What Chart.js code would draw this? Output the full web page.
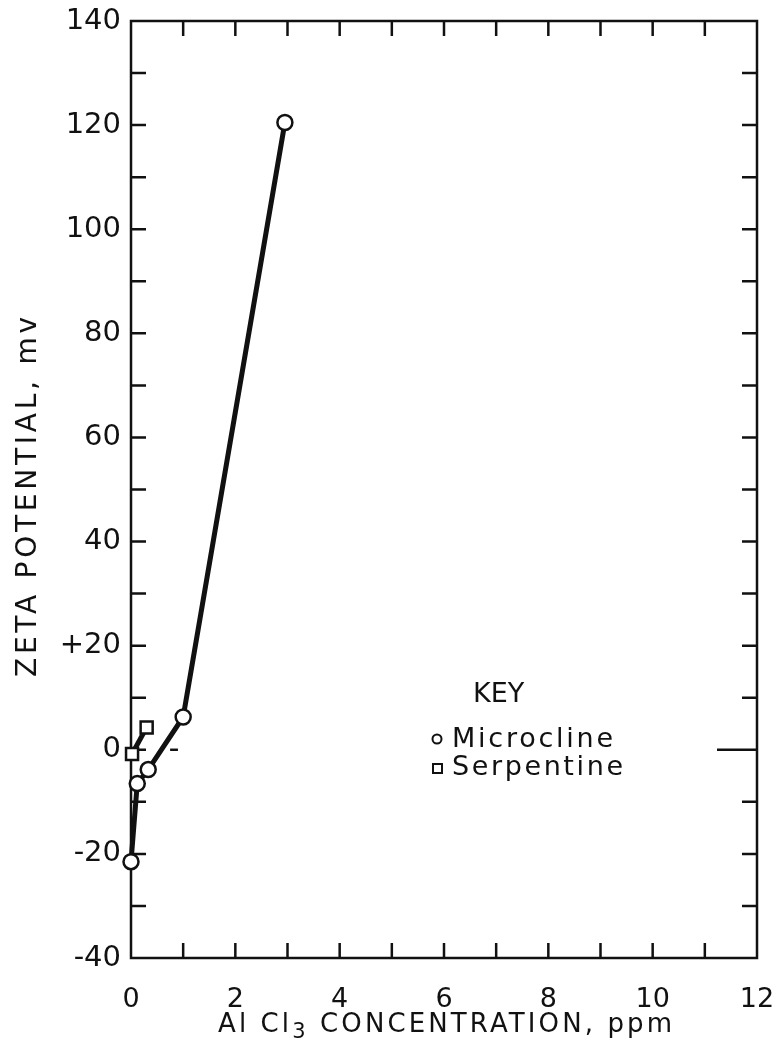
<!DOCTYPE html>
<html>
<head>
<meta charset="utf-8">
<script src="https://cdn.jsdelivr.net/npm/chart.js@4.4.1/dist/chart.umd.min.js"></script>
<style>
  html, body { margin: 0; padding: 0; background: #fff; }
  #wrap { width: 777px; height: 1048px; position: relative; }
</style>
</head>
<body>
<div id="wrap"><canvas id="zeta"></canvas></div>
<script>
// data
const microclineConc = [0, 0.12, 0.33, 1.0, 2.95];
const microclineZeta = [-21.5, -6.5, -3.8, 6.3, 120.5];
const serpentineConc = [0.02, 0.3];
const serpentineZeta = [-0.8, 4.3];

const xLabels = { 0: "0", 2: "2", 4: "4", 6: "6", 8: "8", 10: "10", 12: "12" };
const yLabels = { "-40": "-40", "-20": "-20", 0: "0", 20: "+20", 40: "40", 60: "60", 80: "80", 100: "100", 120: "120", 140: "140" };

const ink = "#111";
const face = "'DejaVu Sans'";

function pts(xs, ys) {
    return xs.map((x, i) => ({ x: x, y: ys[i] }));
}

// draws text pieces spread out to a given width, starting at x (left aligned)
function spreadText(ctx, parts, x, y, width) {
    let natural = 0, count = 0;
    ctx.letterSpacing = "0px";
    parts.forEach(p => {
        ctx.font = p.size + "px " + face;
        natural += ctx.measureText(p.t).width;
        count += p.t.length;
    });
    const gap = Math.max(0, (width - natural) / (count - 1));
    ctx.letterSpacing = gap + "px";
    let cx = x;
    parts.forEach(p => {
        ctx.font = p.size + "px " + face;
        ctx.fillText(p.t, cx, y + (p.dy || 0));
        cx += ctx.measureText(p.t).width;
    });
    ctx.letterSpacing = "0px";
}

// frame with inward ticks, drawn under the data
const framePlugin = {
    id: "frame",
    beforeDatasetsDraw(chart) {
        const { ctx, chartArea: a, scales } = chart;
        ctx.save();
        ctx.strokeStyle = ink;
        ctx.lineWidth = 2.5;
        ctx.lineCap = "butt";
        ctx.strokeRect(a.left, a.top, a.right - a.left, a.bottom - a.top);

        scales.x.ticks.forEach(t => {
            const px = scales.x.getPixelForValue(t.value);
            if (px <= a.left + 1 || px >= a.right - 1) return;
            ctx.beginPath();
            ctx.moveTo(px, a.bottom); ctx.lineTo(px, a.bottom - 15);
            ctx.moveTo(px, a.top); ctx.lineTo(px, a.top + 15);
            ctx.stroke();
        });
        scales.y.ticks.forEach(t => {
            const py = scales.y.getPixelForValue(t.value);
            if (py <= a.top + 1 || py >= a.bottom - 1) return;
            const rightLen = t.value === 0 ? 40 : 15;
            ctx.beginPath();
            ctx.moveTo(a.left, py); ctx.lineTo(a.left + 15, py);
            ctx.moveTo(a.right, py); ctx.lineTo(a.right - rightLen, py);
            ctx.stroke();
        });

        // small stray dash near zero
        const y0 = scales.y.getPixelForValue(0);
        ctx.beginPath();
        ctx.moveTo(scales.x.getPixelForValue(0.75), y0);
        ctx.lineTo(scales.x.getPixelForValue(0.9), y0);
        ctx.stroke();
        ctx.restore();
    },
    afterDraw(chart) {
        const { ctx } = chart;
        ctx.save();
        ctx.fillStyle = ink;
        ctx.strokeStyle = ink;
        ctx.textBaseline = "alphabetic";
        ctx.textAlign = "left";

        // axis titles
        spreadText(ctx, [
            { t: "Al Cl", size: 26 },
            { t: "3", size: 21, dy: 6 },
            { t: " CONCENTRATION, ppm", size: 26 }
        ], 218, 1032, 454);

        ctx.save();
        ctx.translate(36, 677);
        ctx.rotate(-Math.PI / 2);
        spreadText(ctx, [{ t: "ZETA POTENTIAL, mv", size: 28 }], 0, 0, 360);
        ctx.restore();

        // key
        spreadText(ctx, [{ t: "KEY", size: 27 }], 473, 702, 49);
        spreadText(ctx, [{ t: "Microcline", size: 27 }], 452, 747, 161);
        spreadText(ctx, [{ t: "Serpentine", size: 27 }], 452, 775, 171);
        ctx.lineWidth = 2;
        ctx.beginPath();
        ctx.arc(437, 739, 4.5, 0, Math.PI * 2);
        ctx.stroke();
        ctx.strokeRect(433, 764, 9, 9);
        ctx.restore();
    }
};

// transparent tick marks only push the labels away from the axis
const hiddenGrid = len => ({
    display: true,
    drawOnChartArea: false,
    drawTicks: true,
    tickLength: len,
    color: "rgba(0,0,0,0)"
});

new Chart(document.getElementById("zeta"), {
    type: "scatter",
    data: {
        datasets: [
            {
                label: "Microcline",
                data: pts(microclineConc, microclineZeta),
                showLine: true,
                borderColor: ink,
                borderWidth: 5,
                pointStyle: "circle",
                pointRadius: 7.5,
                pointBorderWidth: 2.5,
                pointBackgroundColor: "#fff",
                pointBorderColor: ink,
                clip: false
            },
            {
                label: "Serpentine",
                data: pts(serpentineConc, serpentineZeta),
                showLine: true,
                borderColor: ink,
                borderWidth: 5,
                pointStyle: "rect",
                pointRadius: 8.5,
                pointBorderWidth: 2.5,
                pointBackgroundColor: "#fff",
                pointBorderColor: ink,
                clip: false
            }
        ]
    },
    options: {
        responsive: true,
        maintainAspectRatio: false,
        animation: false,
        layout: { padding: { top: 21, right: 20, left: 0, bottom: 0 } },
        plugins: {
            legend: { display: false },
            tooltip: { enabled: false }
        },
        scales: {
            x: {
                type: "linear",
                min: 0,
                max: 12,
                grid: hiddenGrid(24),
                border: { display: false },
                afterFit: s => { s.height = 90; },
                ticks: {
                    stepSize: 1,
                    autoSkip: false,
                    maxRotation: 0,
                    padding: 2,
                    color: ink,
                    font: { family: face, size: 27 },
                    callback: v => xLabels[v] !== undefined ? xLabels[v] : ""
                },
                title: { display: false }
            },
            y: {
                type: "linear",
                min: -40,
                max: 140,
                grid: hiddenGrid(10),
                border: { display: false },
                afterFit: s => { s.width = 131; },
                ticks: {
                    stepSize: 10,
                    autoSkip: false,
                    padding: 0,
                    color: ink,
                    font: { family: face, size: 29 },
                    callback: v => yLabels[v] !== undefined ? yLabels[v] : ""
                },
                title: { display: false }
            }
        }
    },
    plugins: [framePlugin]
});
</script>
</body>
</html>
